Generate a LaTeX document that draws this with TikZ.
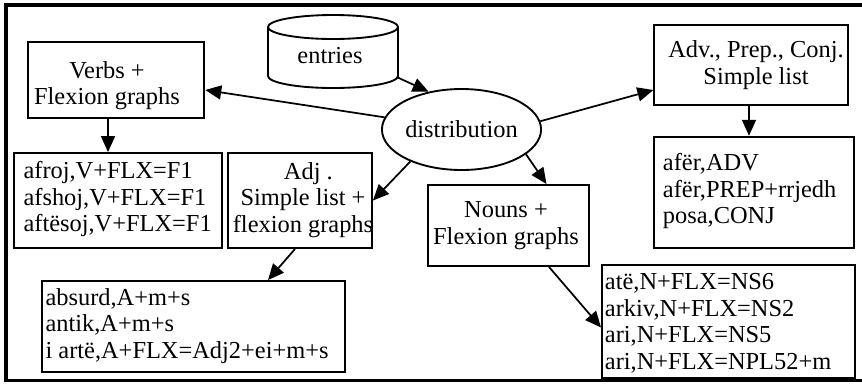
\documentclass[tikz,border=0pt]{standalone}
\usepackage{fontspec}
\setmainfont{Liberation Serif}
\usetikzlibrary{arrows.meta,calc,shapes.geometric}
\begin{document}
\begin{tikzpicture}[x=0.75pt,y=-0.75pt,
  box/.style={draw,line width=1.4pt,rectangle,inner sep=0pt},
  txt/.style={inner sep=0pt,font=\fontsize{18.3pt}{19.9pt}\selectfont},
  listtxt/.style={txt,align=left,anchor=north west},
  ctxt/.style={txt,align=center,anchor=north},
  arr/.style={line width=1.3pt,-{Triangle[length=12pt,width=10.5pt]}},
  frame/.style={line width=2.5pt}]
\useasboundingbox (0,0) rectangle (862,383);
% outer frame
\draw[frame] (866,5) -- (6,5) -- (6,380.5) -- (866,380.5);

% entries cylinder
\node[inner sep=0pt,minimum width=97.5pt,minimum height=54.75pt] (entries) at (333,51.5) {};
\draw[line width=1.4pt] (333,27) ellipse [x radius=65, y radius=12];
\draw[line width=1.4pt] (268,27) -- (268,76) arc[start angle=180,end angle=0,x radius=65,y radius=12] -- (398,27);
\node[txt,anchor=base] (entriesT) at (330,63.3) {entries};

% distribution
\node[draw,ellipse,line width=1.4pt,inner sep=0pt,minimum width=111.75pt,minimum height=60.75pt,txt] (dist) at (461.5,129.5) {distribution};

% boxes
\node[box,minimum width=132.5pt,minimum height=57.5pt] (verbs) at (116,80) {};
\node[ctxt] (verbsT) at (107,61.1) {Verbs +\\Flexion graphs};

\node[box,minimum width=155.8pt,minimum height=71.25pt] (vlist) at (117.9,200.5) {};
\node[listtxt] (vlistT) at (23.3,161.1) {afroj,V+FLX=F1\\afshoj,V+FLX=F1\\aftësoj,V+FLX=F1};

\node[box,minimum width=108pt,minimum height=71.25pt] (adj) at (300,200.5) {};
\begin{scope}
\clip (adj.south west) rectangle (adj.north east);
\node[ctxt] (adjT) at (303,161.8) {\hspace{8pt}Adj .\\Simple list +\\flexion graphs};
\end{scope}

\node[box,minimum width=227pt,minimum height=68.25pt] (alist) at (193.3,326.5) {};
\node[listtxt] (alistT) at (45.3,288.1) {absurd,A+m+s\\antik,A+m+s\\i artë,A+FLX=Adj2+ei+m+s};

\node[box,minimum width=120.75pt,minimum height=60.75pt] (nouns) at (508.5,225.5) {};
\node[ctxt] (nounsT) at (506,201.5) {Nouns +\hspace{12pt}\\Flexion graphs};

\node[box,minimum width=189.5pt,minimum height=84.75pt] (nlist) at (728.3,321.5) {};
\node[listtxt] (nlistT) at (604.7,273.1) {atë,N+FLX=NS6\\arkiv,N+FLX=NS2\\ari,N+FLX=NS5\\ari,N+FLX=NPL52+m};

\node[box,minimum width=145pt,minimum height=60pt] (adv) at (751,65) {};
\node[ctxt] (advT) at (756,40.5) {Adv., Prep., Conj.\\Simple list\hspace{22.5pt}};

\node[box,minimum width=150pt,minimum height=83.7pt] (advlist) at (754,192.5) {};
\node[listtxt] (advlistT) at (662.7,153.1) {afër,ADV\\afër,PREP+rrjedh\\posa,CONJ};

% connectors
\draw[arr] ($(entries.south east)+(-1,-11)$) -- (dist.131);
\draw[arr] (dist.171) -- ($(verbs.east)+(0,10)$);
\draw[arr] ($(verbs.south)+(-8,0)$) coordinate (vs) -- (vs |- vlist.north);
\draw[arr] (dist.212) -- (adj.east);
\draw[arr] (dist.6) -- ($(adv.west)+(0,25)$);
\draw[arr] ($(adv.south)+(-2,0)$) coordinate (as) -- (as |- advlist.north);
\draw[arr] (dist.-21) -- ($(nouns.north)+(38,0)$);
\draw[arr] ($(adj.south)+(-5,0)$) -- ($(alist.north)+(74.7,0)$);
\draw[arr] ($(nouns.south)+(40.5,0)$) -- ($(nlist.west)+(0,6)$);
\end{tikzpicture}
\end{document}
